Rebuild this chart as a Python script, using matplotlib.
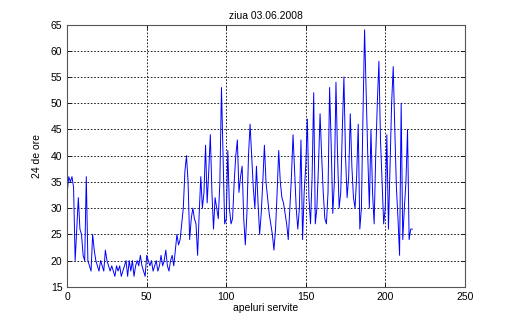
import matplotlib
matplotlib.use('Agg')
import matplotlib.pyplot as plt
import numpy as np

plt.rcParams['font.family'] = ['Liberation Sans', 'DejaVu Sans']

# values, one per served call
valori = [33, 36, 35, 36, 34, 20, 26, 32, 26, 25, 21, 20, 36, 20, 19, 18, 25, 22, 20, 19,
          18, 20, 19, 18, 22, 20, 19, 18, 19, 18, 17, 19, 18, 19, 17, 18, 19, 20, 17, 20,
          18, 20, 17, 19, 20, 19, 21, 19, 18, 17, 21, 20, 19, 20, 18, 19, 20, 18, 19, 21,
          19, 20, 22, 19, 18, 20, 21, 19, 22, 25, 23, 24, 27, 30, 37, 40, 35, 24, 28, 30,
          28, 27, 21, 29, 36, 30, 33, 42, 31, 37, 44, 33, 26, 32, 30, 28, 35, 53, 40, 27,
          28, 41, 30, 27, 28, 35, 40, 43, 33, 36, 38, 28, 23, 29, 40, 46, 40, 34, 30, 38,
          31, 25, 29, 35, 42, 35, 32, 29, 27, 25, 22, 26, 33, 41, 35, 32, 31, 29, 27, 24,
          30, 36, 44, 37, 30, 26, 30, 43, 24, 33, 38, 47, 32, 27, 36, 52, 27, 30, 38, 48,
          40, 33, 28, 27, 33, 53, 42, 29, 35, 54, 40, 30, 33, 45, 55, 40, 32, 36, 48, 38,
          32, 30, 36, 46, 26, 30, 48, 64, 52, 40, 30, 45, 33, 27, 40, 50, 58, 43, 35, 27,
          30, 44, 26, 38, 50, 57, 45, 34, 28, 21, 50, 24, 30, 35, 45, 24, 26, 26]
apeluri = np.arange(len(valori))

xticks = [0, 50, 100, 150, 200, 250]
yticks = [15, 20, 25, 30, 35, 40, 45, 50, 55, 60, 65]

fig = plt.figure(figsize=(5.13, 3.23), dpi=100)
ax = fig.add_axes([0.131, 0.112, 0.775, 0.812])

ax.plot(apeluri, valori, color=(0, 0, 1), linewidth=0.7)

ax.set_xlim(0, 250)
ax.set_ylim(15, 65)
ax.set_xticks(xticks)
ax.set_yticks(yticks)
ax.grid(True, color='black', linestyle=(0, (2, 2)), linewidth=0.6)
ax.tick_params(direction='in', top=True, right=True, labelsize=7.5, length=3, width=0.6)
for s in ax.spines.values():
    s.set_linewidth(0.8)
    s.set_color('#555555')

ax.set_title('ziua 03.06.2008', fontsize=7.5, pad=4)
ax.set_xlabel('apeluri servite', fontsize=7.5, labelpad=1)
ax.set_ylabel('24 de ore', fontsize=7.5, labelpad=6)

plt.savefig('out.png', dpi=100)
